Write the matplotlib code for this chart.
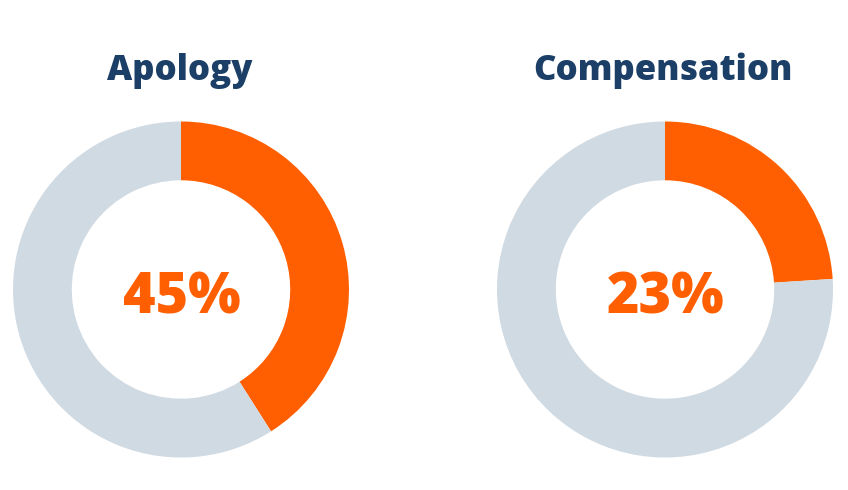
import matplotlib.pyplot as plt

# values
titles = ["Apology", "Compensation"]
labels = ["45%", "23%"]
arc_shares = [41, 24]     # share of the ring painted orange, as drawn
centers_x = [181, 665]    # pixel centres of the donuts

ORANGE = "#ff5f00"
GREY = "#d0dae3"
NAVY = "#1b3f66"

W, H = 848, 490
fig = plt.figure(figsize=(W / 100, H / 100), dpi=100)
fig.patch.set_facecolor("white")

radius_px = 168
cy = 289.5

for title, label, share, cx in zip(titles, labels, arc_shares, centers_x):
    ax = fig.add_axes([(cx - radius_px) / W, (H - cy - radius_px) / H,
                       2 * radius_px / W, 2 * radius_px / H])
    ax.pie([share, 100 - share], colors=[ORANGE, GREY], startangle=90,
           counterclock=False, radius=1,
           wedgeprops=dict(width=0.35, linewidth=0))
    ax.set_xlim(-1, 1)
    ax.set_ylim(-1, 1)
    ax.set_aspect("equal")
    ax.axis("off")
    # baseline of the big number sits ~23px below the ring centre
    ax.text(0.005, -0.14, label, ha="center", va="baseline",
            fontsize=40, fontweight=800, family="Open Sans", color=ORANGE)
    fig.text(cx / W - 0.002, 1 - 80 / H, title, ha="center", va="baseline",
             fontsize=25, fontweight=800, family="Open Sans", color=NAVY)

fig.savefig("out.png", dpi=100, facecolor="white")
